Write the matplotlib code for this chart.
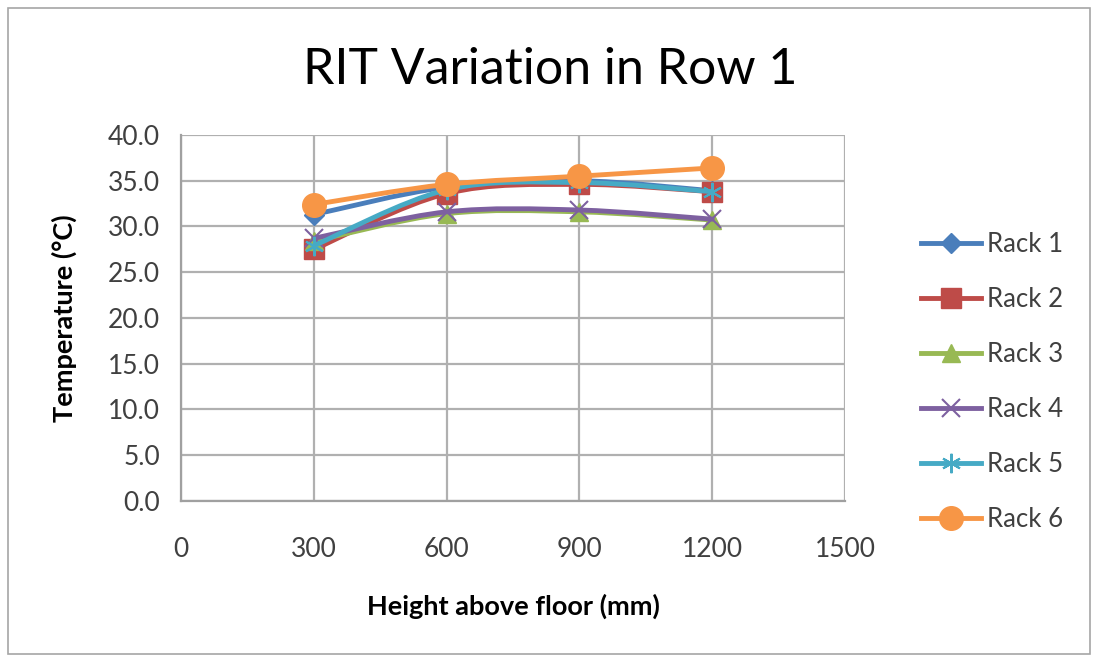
import numpy as np
import matplotlib
matplotlib.use("Agg")
import matplotlib.pyplot as plt
from matplotlib.path import Path
from matplotlib.patches import PathPatch, Rectangle
from matplotlib.lines import Line2D

plt.rcParams['font.family'] = ['Lato', 'DejaVu Sans']

# data
heights = [300, 600, 900, 1200]
rack1 = [31.3, 34.3, 35.0, 33.9]
rack2 = [27.5, 33.6, 34.6, 33.8]
rack3 = [28.4, 31.4, 31.6, 30.7]
rack4 = [28.7, 31.6, 31.8, 30.8]
rack5 = [27.9, 34.0, 34.8, 33.8]
rack6 = [32.4, 34.6, 35.5, 36.4]

labels = ['Rack 1', 'Rack 2', 'Rack 3', 'Rack 4', 'Rack 5', 'Rack 6']
series = [rack1, rack2, rack3, rack4, rack5, rack6]
colors = ['#4A7EBB', '#BE4B48', '#98B954', '#7D60A0', '#46AAC5', '#F79646']
markers = ['D', 's', '^', 'x', (6, 2, 0), 'o']
msizes = [10, 15, 13, 13, 14, 17]


def smooth_path(x, y, t=1/6):
    # Excel-like smoothed line: cubic bezier through the points
    pts = np.column_stack([x, y]).astype(float)
    verts = [pts[0]]
    codes = [Path.MOVETO]
    n = len(pts)
    for i in range(n - 1):
        p0 = pts[i - 1] if i > 0 else pts[i]
        p1 = pts[i]
        p2 = pts[i + 1]
        p3 = pts[i + 2] if i + 2 < n else pts[i + 1]
        c1 = p1 + (p2 - p0) * t
        c2 = p2 - (p3 - p1) * t
        verts += [c1, c2, p2]
        codes += [Path.CURVE4] * 3
    return Path(verts, codes)


fig = plt.figure(figsize=(10.95, 6.62), dpi=100)
fig.patches.append(Rectangle((0.007, 0.012), 0.988, 0.976, transform=fig.transFigure,
                             fill=False, edgecolor='#A6A6A6', linewidth=1.2))

ax = fig.add_axes([0.1653, 0.2432, 0.6064, 0.5529])

for i, (vals, lab, c, m, ms) in enumerate(zip(series, labels, colors, markers, msizes)):
    ax.add_patch(PathPatch(smooth_path(heights, vals), facecolor='none', edgecolor=c,
                           linewidth=3.5, zorder=3 + i, capstyle='round', joinstyle='round'))
    mew = 1.5 if m in ('x', (6, 2, 0)) else 1
    ax.plot(heights, vals, linestyle='none', marker=m, markersize=ms, color=c,
            markeredgewidth=mew, zorder=3 + i)

ax.set_xlim(0, 1500)
ax.set_ylim(0, 40)
ax.set_xticks([0, 300, 600, 900, 1200, 1500])
ax.set_yticks(np.arange(0, 41, 5))
ax.set_yticklabels([f'{v:.1f}' for v in np.arange(0, 41, 5)])
ax.grid(True, color='#B0B0B0', linewidth=1.6)
ax.set_axisbelow(True)
for s in ['top', 'right']:
    ax.spines[s].set_visible(False)
for s in ['left', 'bottom']:
    ax.spines[s].set_color('#A0A0A0')
    ax.spines[s].set_linewidth(1.6)
ax.tick_params(length=0, labelsize=19, colors='#404040')
ax.tick_params(axis='x', pad=26)
ax.tick_params(axis='y', pad=15)

fig.text(0.502, 0.894, 'RIT Variation in Row 1', fontsize=36, color='black',
         ha='center', va='center')
ax.set_xlabel('Height above floor (mm)', fontsize=19.5, fontweight='bold', labelpad=23)
ax.set_ylabel('Temperature (°C)', fontsize=19.5, fontweight='bold', labelpad=22)

handles = [Line2D([], [], color=c, linewidth=3.5, marker=m, markersize=ms,
                  markeredgewidth=1.5 if m in ('x', (6, 2, 0)) else 1)
           for c, m, ms in zip(colors, markers, msizes)]
fig.legend(handles, labels, loc='center left', bbox_to_anchor=(0.82, 0.423),
           frameon=False, fontsize=18.5, handlelength=2.35, handletextpad=0.2,
           labelspacing=1.17, labelcolor='#404040')

fig.savefig('out.png', dpi=100)
